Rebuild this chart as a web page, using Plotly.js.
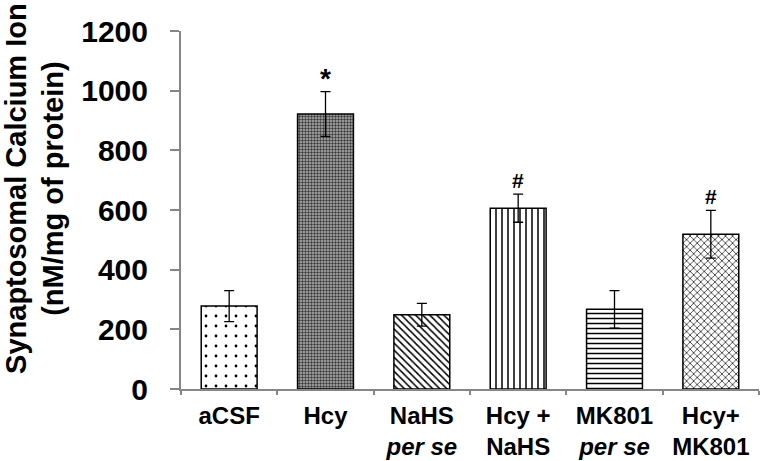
<!DOCTYPE html>
<html>
<head>
<meta charset="utf-8">
<script src="https://cdn.plot.ly/plotly-3.0.1.min.js"></script>
<style>html,body{margin:0;padding:0;background:#fff;}#chart{width:761px;height:461px;}</style>
</head>
<body>
<div id="chart"></div>
<script>
var categories = ["aCSF", "Hcy", "NaHS<br><i>per se</i>", "Hcy +<br>NaHS", "MK801<br><i>per se</i>", "Hcy+<br>MK801"];
var means = [278, 922, 249, 606, 267, 519];
var errors = [52, 75, 38, 47, 63, 80];
var marks = ["", "*", "", "#", "", "#"];
var markSizes = [0, 28, 0, 21, 0, 21];
var yTicks = [0, 200, 400, 600, 800, 1000, 1200];

var patShapes = [".", ".", "\\", "|", "-", "x"];
var patBg = ["#ffffff", "#b4b4b4", "#ffffff", "#ffffff", "#ffffff", "#ffffff"];
var patFg = ["#000000", "#3a3a3a", "#000000", "#000000", "#000000", "#000000"];
var patSize = [10, 3, 5, 6, 5, 5];
var patSolid = [0.06, 0.5, 0.3, 0.25, 0.3, 0.25];

var fontFam = "Liberation Sans, Arial, sans-serif";

var trace = {
  type: "bar",
  x: categories,
  y: means,
  width: 0.58,
  marker: {
    color: "#ffffff",
    line: {color: "#000000", width: 1.5},
    pattern: {shape: patShapes, bgcolor: patBg, fgcolor: patFg, size: patSize, solidity: patSolid, fillmode: "replace"}
  },
  error_y: {type: "data", array: errors, visible: true, color: "#000000", thickness: 1.3, width: 5},
  hoverinfo: "none"
};

var annotations = [];
for (var i = 0; i < categories.length; i++) {
  if (marks[i]) {
    annotations.push({
      x: categories[i], y: means[i] + errors[i], xref: "x", yref: "y",
      text: marks[i], showarrow: false, yanchor: "bottom", yshift: marks[i] === "*" ? -4 : 0,
      font: {family: fontFam, size: markSizes[i], color: "#000", weight: "bold"}
    });
  }
}
annotations.push({
  xref: "paper", yref: "paper", x: -0.253, y: 0.561, xanchor: "center", yanchor: "middle",
  text: "Synaptosomal Calcium Ion<br>(nM/mg of protein)", textangle: -90, showarrow: false,
  font: {family: fontFam, size: 29, color: "#000", weight: "bold"}
});

var layout = {
  width: 761, height: 461,
  margin: {l: 181, r: 2, t: 31, b: 72},
  paper_bgcolor: "#ffffff", plot_bgcolor: "#ffffff",
  showlegend: false,
  xaxis: {
    type: "category", showgrid: false, zeroline: false,
    showline: true, linecolor: "#868686", linewidth: 2,
    ticks: "outside", tickson: "boundaries", ticklen: 4, tickcolor: "#868686", tickwidth: 2,
    ticklabelstandoff: 4,
    tickfont: {family: fontFam, size: 24, color: "#000", weight: "bold"},
    range: [-0.5, 5.5]
  },
  yaxis: {
    range: [0, 1200], tickvals: yTicks, showgrid: false, zeroline: false,
    showline: true, linecolor: "#868686", linewidth: 2,
    ticks: "outside", ticklen: 9, tickcolor: "#868686", tickwidth: 2,
    ticklabelstandoff: 16,
    tickfont: {family: fontFam, size: 30, color: "#000", weight: "bold"}
  },
  annotations: annotations
};

Plotly.newPlot("chart", [trace], layout, {displayModeBar: false, staticPlot: true});
</script>
</body>
</html>
